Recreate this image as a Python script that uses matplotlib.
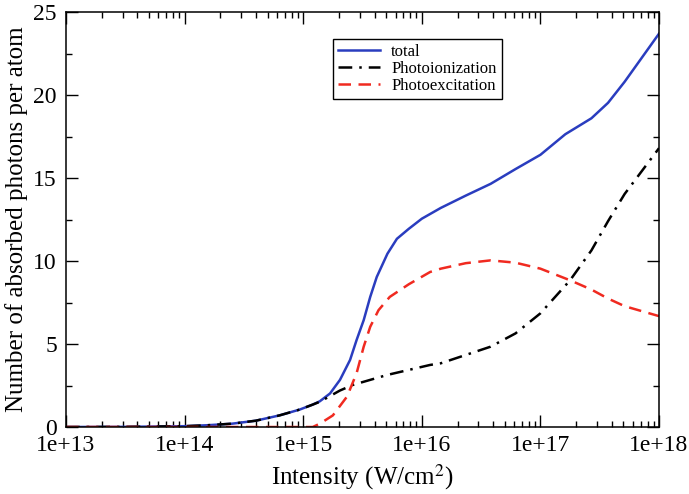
import numpy as np
import matplotlib
matplotlib.use("Agg")
import matplotlib.pyplot as plt
from matplotlib.ticker import MultipleLocator, LogLocator, NullFormatter

plt.rcParams['font.family'] = ['Liberation Serif', 'DejaVu Serif']
plt.rcParams['mathtext.fontset'] = 'stix'

# log10 of intensity (W/cm^2) and values
total_logI = [13.0, 13.5, 14.0, 14.2, 14.4, 14.6, 14.8, 14.97, 15.08, 15.14, 15.226,
              15.31, 15.395, 15.45, 15.51, 15.565, 15.62, 15.71, 15.79, 15.89, 16.0,
              16.16, 16.37, 16.58, 16.79, 17.0, 17.21, 17.43, 17.57, 17.71, 17.85, 18.0]
total = [0.0, 0.01, 0.05, 0.11, 0.2, 0.38, 0.7, 1.05, 1.35, 1.55, 2.02,
         2.84, 4.04, 5.24, 6.44, 7.84, 9.04, 10.44, 11.34, 11.94, 12.55,
         13.2, 13.94, 14.65, 15.54, 16.4, 17.64, 18.6, 19.53, 20.8, 22.2, 23.7]

ion_logI = [13.0, 13.5, 14.0, 14.2, 14.4, 14.6, 14.8, 14.97, 15.08, 15.14, 15.31,
            15.42, 15.565, 15.71, 15.89, 16.07, 16.16, 16.37, 16.58, 16.79, 17.0,
            17.25, 17.43, 17.57, 17.71, 18.0]
ionization = [0.0, 0.01, 0.05, 0.11, 0.2, 0.38, 0.7, 1.05, 1.35, 1.52, 2.2,
              2.54, 2.84, 3.14, 3.44, 3.74, 3.84, 4.34, 4.84, 5.64, 6.85,
              8.84, 10.64, 12.4, 14.04, 16.8]

exc_logI = [13.0, 14.0, 15.0, 15.08, 15.14, 15.25, 15.37, 15.45, 15.51, 15.565,
            15.635, 15.73, 15.89, 16.07, 16.16, 16.37, 16.58, 16.79, 17.0, 17.25,
            17.43, 17.57, 17.71, 18.0]
excitation = [0.0, 0.0, 0.0, 0.0, 0.2, 0.7, 1.84, 3.24, 4.84, 6.04,
              7.04, 7.84, 8.6, 9.34, 9.54, 9.87, 10.04, 9.9, 9.54, 8.84,
              8.28, 7.74, 7.28, 6.68]

xtick_vals = [1e13, 1e14, 1e15, 1e16, 1e17, 1e18]
xtick_labels = ['1e+13', '1e+14', '1e+15', '1e+16', '1e+17', '1e+18']

fig = plt.figure(figsize=(6.89, 4.94), dpi=100)
ax = fig.add_axes([0.0958, 0.1356, 0.8607, 0.840])

ax.plot(10 ** np.array(total_logI), total, color='#2a3dbf', lw=1.8, label='total')
ax.plot(10 ** np.array(ion_logI), ionization, color='black', lw=1.8,
        dashes=(5.5, 2.8, 1, 2.8), label='Photoionization')
ax.plot(10 ** np.array(exc_logI), excitation, color='#f02a20', lw=1.8,
        dashes=(5, 3), label='Photoexcitation')

ax.set_xscale('log')
ax.set_xlim(1e13, 1e18)
ax.set_ylim(0, 25)
ax.set_xticks(xtick_vals)
ax.set_xticklabels(xtick_labels)
ax.xaxis.set_minor_locator(LogLocator(base=10, subs=np.arange(2, 10)))
ax.xaxis.set_minor_formatter(NullFormatter())
ax.yaxis.set_major_locator(MultipleLocator(5))
ax.yaxis.set_minor_locator(MultipleLocator(2.5))

ax.tick_params(which='both', direction='in', top=True, right=True, labelsize=17)
ax.tick_params(which='major', length=8.5, width=1.0)
ax.tick_params(which='minor', length=4.5, width=1.0)
ax.tick_params(axis='x', pad=6)
ax.tick_params(axis='y', pad=6.5)
for s in ax.spines.values():
    s.set_linewidth(1.1)

ax.set_xlabel('Intensity (W/cm$^2$)', fontsize=18)
ax.set_ylabel('Number of absorbed photons per atom', fontsize=18, labelpad=4)

leg = ax.legend(loc='upper left', bbox_to_anchor=(0.45, 0.935), fontsize=12,
                frameon=True, fancybox=False, edgecolor='black', framealpha=1,
                handlelength=2.5, handletextpad=0.7, labelspacing=0.05,
                borderpad=0.3, borderaxespad=0)
leg.get_frame().set_linewidth(1.0)

plt.savefig('out.png', dpi=100)
